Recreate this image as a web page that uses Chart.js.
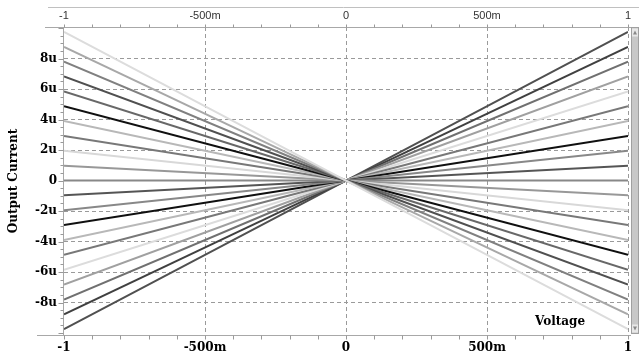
<!DOCTYPE html>
<html>
<head>
<meta charset="utf-8">
<script src="https://cdn.jsdelivr.net/npm/chart.js@4"></script>
<style>
  html, body { margin: 0; padding: 0; background: #fff; }
  #wrap { position: relative; width: 639px; height: 358px; }
</style>
</head>
<body>
<div id="wrap"><canvas id="ivChart" width="639" height="358"></canvas></div>
<script>
// ===================== Data ===================

const voltages = [-1, 0, 1];

// output current (u) of each curve at V = -1, listed top to bottom
const currentAtMinusOne = [9.75, 8.77, 7.8, 6.82, 5.85, 4.87, 3.9, 2.92, 1.95, 0.97, 0,
  -0.97, -1.95, -2.92, -3.9, -4.87, -5.85, -6.82, -7.8, -8.77, -9.75];
// same curves at V = 0
const currentAtZero = [0, 0, 0, 0, 0, 0, 0, 0, 0, 0, 0,
  0, 0, 0, 0, 0, 0, 0, 0, 0, 0];
// same curves at V = +1
const currentAtPlusOne = [-9.75, -8.77, -7.8, -6.82, -5.85, -4.87, -3.9, -2.92, -1.95, -0.97, 0,
  0.97, 1.95, 2.92, 3.9, 4.87, 5.85, 6.82, 7.8, 8.77, 9.75];

const lineGrays = ['#dcdcdc', '#a8a8a8', '#808080', '#505050', '#686868', '#101010', '#b8b8b8',
  '#787878', '#d8d8d8', '#989898', '#888888', '#555555', '#888888', '#101010', '#b8b8b8',
  '#787878', '#dcdcdc', '#a0a0a0', '#707070', '#404040', '#505050'];

const xTickValues = [-1, -0.5, 0, 0.5, 1];
const xTickLabels = ['-1', '-500m', '0', '500m', '1'];
const yTickValues = [-8, -6, -4, -2, 0, 2, 4, 6, 8];
const yTickLabels = ['-8u', '-6u', '-4u', '-2u', '0', '2u', '4u', '6u', '8u'];

// ===================== Chart ===================

const serifBold = { family: '"DejaVu Serif", serif', weight: 'bold', size: 12 };
const gridGray = '#9a9a9a';

function hLine(ctx, x1, x2, y) {
  ctx.beginPath(); ctx.moveTo(x1, y); ctx.lineTo(x2, y); ctx.stroke();
}
function vLine(ctx, x, y1, y2) {
  ctx.beginPath(); ctx.moveTo(x, y1); ctx.lineTo(x, y2); ctx.stroke();
}

const framePlugin = {
  id: 'frame',
  afterDraw(chart) {
    const { ctx, chartArea: a, scales } = chart;
    const left = Math.round(a.left) - 0.5;
    const top = Math.round(a.top) + 0.5;
    const bottom = Math.round(a.bottom) + 0.5;
    ctx.save();
    ctx.lineWidth = 1;

    // outer lines
    ctx.strokeStyle = '#c0c0c0';
    hLine(ctx, 48, 639, 7.5);
    ctx.strokeStyle = '#a8a8a8';
    hLine(ctx, 45, a.right + 3, top);
    hLine(ctx, 37, a.right + 3, bottom);
    vLine(ctx, left, top, bottom);

    // x tick marks every 100m
    ctx.strokeStyle = '#999';
    for (let i = -10; i <= 10; i++) {
      const px = Math.round(scales.x.getPixelForValue(i / 10)) + 0.5;
      vLine(ctx, px, top - 3, top);
      vLine(ctx, px, bottom, bottom + 4);
    }
    // y tick marks every 500n
    for (let i = -20; i <= 20; i++) {
      const py = Math.round(scales.y.getPixelForValue(i / 2)) + 0.5;
      const len = i % 4 === 0 ? 5 : 3;
      hLine(ctx, left - len, left, py);
    }

    // axis name inside plot
    ctx.fillStyle = '#000';
    ctx.font = 'bold 12px "DejaVu Serif", serif';
    ctx.textAlign = 'center';
    ctx.textBaseline = 'alphabetic';
    ctx.fillText('Voltage', a.right - 68, a.bottom - 10);

    // scrollbar on the right
    ctx.fillStyle = '#c8c8c8';
    ctx.fillRect(631, top, 8, bottom - top - 2);
    ctx.strokeStyle = '#a0a0a0';
    ctx.strokeRect(631.5, top, 7, bottom - top - 2);
    ctx.fillStyle = '#e8e8e8';
    ctx.fillRect(632, top + 1, 6, 8);
    ctx.fillRect(632, bottom - 11, 6, 8);
    ctx.fillStyle = '#888';
    ctx.beginPath(); ctx.moveTo(633, top + 7); ctx.lineTo(637, top + 7); ctx.lineTo(635, top + 3); ctx.fill();
    ctx.beginPath(); ctx.moveTo(633, bottom - 9); ctx.lineTo(637, bottom - 9); ctx.lineTo(635, bottom - 5); ctx.fill();
    ctx.restore();
  }
};

const datasets = currentAtMinusOne.map((left, i) => ({
  label: 'curve ' + (i + 1),
  data: [
    { x: voltages[0], y: left },
    { x: voltages[1], y: currentAtZero[i] },
    { x: voltages[2], y: currentAtPlusOne[i] }
  ],
  borderColor: lineGrays[i],
  borderWidth: 2,
  pointRadius: 0,
  tension: 0,
  fill: false
}));

new Chart(document.getElementById('ivChart'), {
  type: 'line',
  data: { datasets },
  options: {
    responsive: false,
    animation: false,
    layout: { padding: { right: 11, left: 0, top: 0, bottom: 0 } },
    plugins: { legend: { display: false }, tooltip: { enabled: false } },
    scales: {
      x: {
        type: 'linear', position: 'bottom', min: -1, max: 1,
        afterBuildTicks: s => { s.ticks = xTickValues.map(v => ({ value: v })); },
        afterFit: s => { s.height = 23; },
        ticks: {
          callback: (v, i) => xTickLabels[i],
          font: serifBold, color: '#000', padding: 6, maxRotation: 0, autoSkip: false
        },
        grid: {
          drawTicks: false, lineWidth: 1, borderDash: [4, 3],
          color: c => (c.tick && c.tick.value === -1) ? 'rgba(0,0,0,0)' : gridGray
        },
        border: { display: false, dash: [4, 3] }
      },
      x2: {
        type: 'linear', position: 'top', min: -1, max: 1,
        afterBuildTicks: s => { s.ticks = xTickValues.map(v => ({ value: v })); },
        afterFit: s => { s.height = 27; },
        ticks: {
          callback: (v, i) => xTickLabels[i],
          font: { family: '"Liberation Sans", Arial, sans-serif', size: 11 },
          color: '#333', padding: 4, maxRotation: 0, autoSkip: false
        },
        grid: { display: false, drawTicks: false },
        border: { display: false }
      },
      y: {
        type: 'linear', position: 'left', min: -10.13, max: 10.07,
        afterBuildTicks: s => { s.ticks = yTickValues.map(v => ({ value: v })); },
        afterFit: s => { s.width = 64; },
        ticks: { callback: (v, i) => yTickLabels[i], font: serifBold, color: '#000', padding: 7 },
        grid: { drawTicks: false, lineWidth: 1, borderDash: [4, 3], color: gridGray },
        border: { display: false, dash: [4, 3] },
        title: {
          display: true, text: 'Output Current', font: serifBold, color: '#000',
          padding: { top: 7, bottom: 0 }
        }
      }
    }
  },
  plugins: [framePlugin]
});
</script>
</body>
</html>
